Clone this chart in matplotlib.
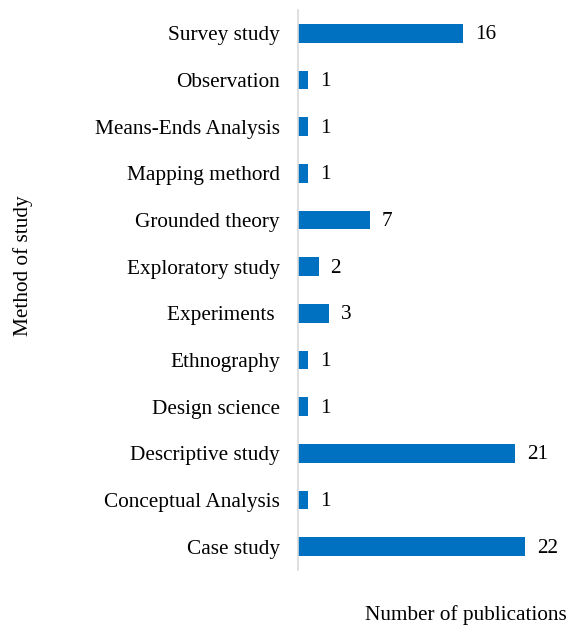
import matplotlib.pyplot as plt

methods = ['Case study', 'Conceptual Analysis', 'Descriptive study', 'Design science',
           'Ethnography', 'Experiments ', 'Exploratory study', 'Grounded theory',
           'Mapping methord', 'Means-Ends Analysis', 'Observation', 'Survey study']
counts = [22, 1, 21, 1, 1, 3, 2, 7, 1, 1, 1, 16]

plt.rcParams['font.family'] = ['Liberation Serif', 'DejaVu Serif']
fs = 15.3

fig = plt.figure(figsize=(5.74, 6.25), dpi=100)
ax = fig.add_axes([0.519, 0.088, 0.452, 0.896])

ypos = range(len(methods))
ax.barh(ypos, counts, height=0.4, color='#0070C0')
for y, v in zip(ypos, counts):
    ax.annotate(str(v), xy=(v, y), xytext=(8.5, -1), textcoords='offset points',
                va='center', ha='left', fontsize=fs)

ax.set_yticks(list(ypos))
ax.set_yticklabels(methods, fontsize=fs)
ax.tick_params(axis='y', length=0, pad=13)
ax.set_xticks([])
ax.set_xlim(0, 25.1)
ax.set_ylim(-0.5, 11.5)
for side in ['top', 'right', 'bottom']:
    ax.spines[side].set_visible(False)
ax.spines['left'].set_color('#d9d9d9')
ax.spines['left'].set_linewidth(1.2)

fig.text(0.988, 0.0, 'Number of publications', ha='right', va='bottom', fontsize=fs)
fig.text(0.04, 0.575, 'Method of study', rotation=90, ha='center', va='center', fontsize=fs)

fig.savefig('out.png', dpi=100)
